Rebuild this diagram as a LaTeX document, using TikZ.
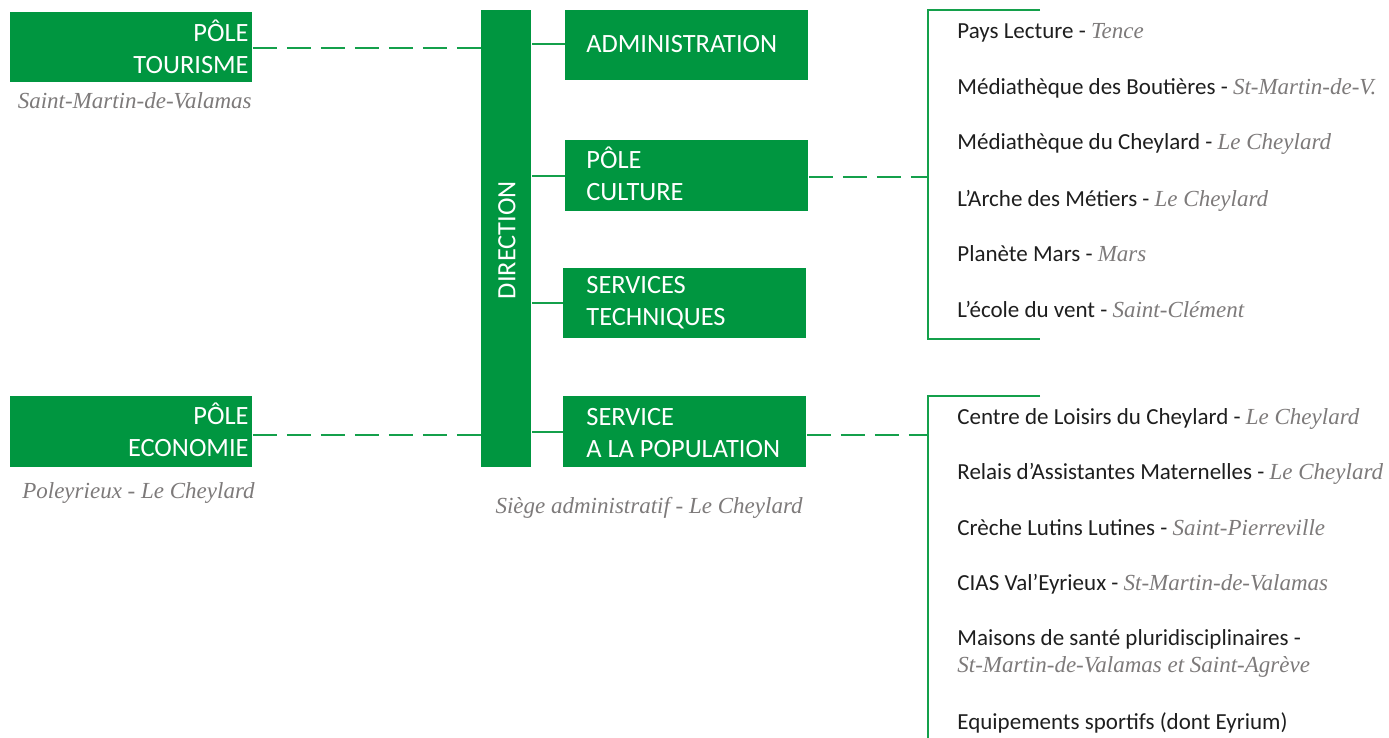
\documentclass[tikz,border=0pt]{standalone}
\usepackage{fontspec}
\setmainfont{Carlito}
\newfontfamily\tms{Liberation Serif}
\definecolor{vgreen}{RGB}{0,150,64}
\definecolor{vline}{RGB}{20,160,75}
\definecolor{vgray}{RGB}{125,122,122}
\definecolor{vtext}{RGB}{30,30,30}
\tikzset{
  gbox/.style={fill=vgreen, draw=none, inner sep=0pt, anchor=north west},
  boxtext/.style={text=white, font=\fontsize{13.2}{16}\selectfont, inner sep=0pt},
  loc/.style={text=vgray, font=\tms\itshape\fontsize{11.5}{13}\selectfont, inner sep=0pt, anchor=base east},
  item/.style={text=vtext, font=\fontsize{11.5}{13.5}\selectfont, inner sep=0pt, anchor=base west},
  solidlink/.style={draw=vline, line width=1pt},
  dashlink/.style={draw=vline, line width=1pt, dash pattern=on 12pt off 5pt},
}
\newcommand{\ville}[1]{{\color{vgray}\tms\itshape #1}}
\begin{document}
\begin{tikzpicture}[x=0.5pt,y=-0.5pt]
\useasboundingbox (0,0) rectangle (1389,738);
% boxes
\node[gbox, minimum width=121pt, minimum height=35pt] (tour) at (10,12) {};
\node[gbox, minimum width=121pt, minimum height=35.5pt] (eco) at (10,396) {};
\node[gbox, minimum width=25pt, minimum height=228.5pt] (dir) at (481,10) {};
\node[gbox, minimum width=121.5pt, minimum height=35pt] (adm) at (565,10) {};
\node[gbox, minimum width=121.5pt, minimum height=35.5pt] (cul) at (565,140) {};
\node[gbox, minimum width=121.5pt, minimum height=35pt] (tec) at (563,268) {};
\node[gbox, minimum width=121.5pt, minimum height=35.5pt] (pop) at (563,396) {};
% box texts
\node[boxtext, anchor=east, align=right] (tourT) at (249,47) {PÔLE\\TOURISME};
\node[boxtext, anchor=east, align=right] (ecoT) at (249,430) {PÔLE\\ECONOMIE};
\node[boxtext, rotate=90] (dirT) at (507,240) {DIRECTION};
\node[boxtext, anchor=west] (admT) at (586,44) {ADMINISTRATION};
\node[boxtext, anchor=west, align=left] (culT) at (586,174) {PÔLE\\CULTURE};
\node[boxtext, anchor=west, align=left] (tecT) at (586,303) {SERVICES\\TECHNIQUES};
\node[boxtext, anchor=west, align=left] (popT) at (586,433) {SERVICE\\A LA POPULATION};
% location labels
\node[loc] (tourL) at (252,109) {Saint-Martin-de-Valamas};
\node[loc] (ecoL) at (255,498) {Poleyrieux - Le Cheylard};
\node[loc] (dirL) at (803,513) {Siège administratif - Le Cheylard};
% bracket coordinates
\coordinate (cb1) at (928,177);
\coordinate (cb2) at (928,435);
\coordinate (ct1) at (1040,10);
\coordinate (ctc) at (928,10);
\coordinate (cbc) at (928,339);
\coordinate (cb1e) at (1040,339);
\coordinate (ct2) at (1040,396);
\coordinate (ct2c) at (928,396);
\coordinate (cend) at (928,740);
% connectors
\draw[dashlink] (tour.east |- 0,48) -- (dir.west |- 0,48);
\draw[dashlink] (eco.east |- 0,435) -- (dir.west |- 0,435);
\draw[solidlink] (dir.east |- 0,44) -- (adm.west |- 0,44);
\draw[solidlink] (dir.east |- 0,176) -- (cul.west |- 0,176);
\draw[solidlink] (dir.east |- 0,303) -- (tec.west |- 0,303);
\draw[solidlink] (dir.east |- 0,432) -- (pop.west |- 0,432);
\draw[dashlink] (cul.east |- cb1) -- (cb1);
\draw[dashlink] (pop.east |- cb2) -- (cb2);
\draw[solidlink] (ct1) -- (ctc) -- (cbc) -- (cb1e);
\draw[solidlink] (ct2) -- (ct2c) -- (cend);
% upper list
\node[item] (u1) at (957,39) {Pays Lecture - \ville{Tence}};
\node[item] (u2) at (957,95) {Médiathèque des Boutières - \ville{St-Martin-de-V.}};
\node[item] (u3) at (957,150) {Médiathèque du Cheylard - \ville{Le Cheylard}};
\node[item] (u4) at (957,206) {L’Arche des Métiers - \ville{Le Cheylard}};
\node[item] (u5) at (957,262) {Planète Mars - \ville{Mars}};
\node[item] (u6) at (957,317) {L’école du vent - \ville{Saint-Clément}};
% lower list
\node[item] (l1) at (957,424) {Centre de Loisirs du Cheylard - \ville{Le Cheylard}};
\node[item] (l2) at (957,479) {Relais d’Assistantes Maternelles - \ville{Le Cheylard}};
\node[item] (l3) at (957,535) {Crèche Lutins Lutines - \ville{Saint-Pierreville}};
\node[item] (l4) at (957,590) {CIAS Val’Eyrieux - \ville{St-Martin-de-Valamas}};
\node[item] (l5) at (957,645) {Maisons de santé pluridisciplinaires -};
\node[item] (l5b) at (957,672) {\ville{St-Martin-de-Valamas et Saint-Agrève}};
\node[item] (l6) at (957,729) {Equipements sportifs (dont Eyrium)};
\end{tikzpicture}
\end{document}
